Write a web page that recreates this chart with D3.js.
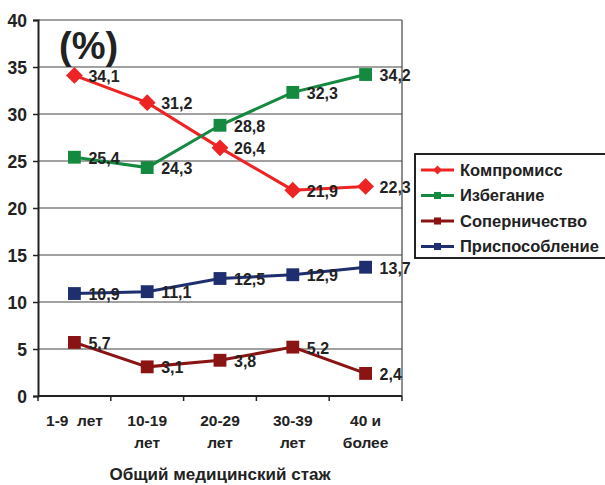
<!DOCTYPE html>
<html><head><meta charset="utf-8">
<script src="https://cdn.jsdelivr.net/npm/d3@7"></script>
<style>body{margin:0;background:#fff}svg{display:block;font-family:Arial,"Liberation Sans",sans-serif}</style>
</head><body>
<script>
const categories = [["1-9  лет"], ["10-19", "лет"], ["20-29", "лет"], ["30-39", "лет"], ["40 и", "более"]];
const seriesNames = ["Компромисс", "Избегание", "Соперничество", "Приспособление"];
const seriesColors = ["#ee2424", "#14893f", "#8a1414", "#1e2e6e"];
const seriesMarkers = ["diamond", "square", "square", "square"];
const kompromiss = [34.1, 31.2, 26.4, 21.9, 22.3];
const izbeganie = [25.4, 24.3, 28.8, 32.3, 34.2];
const sopernichestvo = [5.7, 3.1, 3.8, 5.2, 2.4];
const prisposoblenie = [10.9, 11.1, 12.5, 12.9, 13.7];
const yTicks = [0, 5, 10, 15, 20, 25, 30, 35, 40];
const seriesValues = [kompromiss, izbeganie, sopernichestvo, prisposoblenie];

const W = 605, H = 485;
const svg = d3.select("body").append("svg").attr("width", W).attr("height", H);
const m = {left: 38, right: 402, top: 20, bottom: 396};

const x = d3.scaleBand().domain(d3.range(categories.length)).range([m.left, m.right]);
const y = d3.scaleLinear().domain([0, 40]).range([m.bottom, m.top]);

// horizontal gridlines
svg.append("g").selectAll("line").data(yTicks.filter(d => d > 0)).join("line")
  .attr("x1", m.left).attr("x2", m.right)
  .attr("y1", d => y(d)).attr("y2", d => y(d))
  .attr("stroke", "#444").attr("stroke-width", 1.2);
// right border
svg.append("line").attr("x1", m.right).attr("x2", m.right).attr("y1", m.top).attr("y2", m.bottom)
  .attr("stroke", "#444").attr("stroke-width", 1.2);

// y axis
const yAxis = svg.append("g").attr("transform", `translate(${m.left},0)`)
  .call(d3.axisLeft(y).tickValues(yTicks).tickSize(5).tickPadding(6).tickFormat(d3.format("d")));
yAxis.select(".domain").attr("stroke", "#222").attr("stroke-width", 2);
yAxis.selectAll(".tick line").attr("stroke", "#222").attr("stroke-width", 1.5);
yAxis.selectAll("text").attr("font-size", 17.5).attr("font-weight", "bold").attr("fill", "#222").attr("dy", "0.36em");

// x axis with ticks at band edges
const edges = d3.range(categories.length + 1).map(i => m.left + i * x.step());
svg.append("line").attr("x1", m.left).attr("x2", m.right).attr("y1", m.bottom).attr("y2", m.bottom)
  .attr("stroke", "#222").attr("stroke-width", 2);
svg.append("g").selectAll("line").data(edges).join("line")
  .attr("x1", d => d).attr("x2", d => d).attr("y1", m.bottom).attr("y2", m.bottom + 5)
  .attr("stroke", "#222").attr("stroke-width", 1.5);
const xl = svg.append("g").selectAll("text").data(categories).join("text")
  .attr("x", (d, i) => x(i) + x.bandwidth() / 2).attr("y", 426)
  .attr("text-anchor", "middle").attr("font-size", 15.5).attr("font-weight", "bold").attr("fill", "#222");
xl.selectAll("tspan").data(d => d).join("tspan")
  .attr("x", function () { return this.parentNode.getAttribute("x"); })
  .attr("dy", (d, i) => i === 0 ? 0 : 22).attr("xml:space", "preserve").text(d => d);

svg.append("text").attr("x", 220).attr("y", 480).attr("text-anchor", "middle")
  .attr("font-size", 17).attr("font-weight", "bold").attr("fill", "#222").text("Общий медицинский стаж");

svg.append("text").attr("x", 59).attr("y", 59).attr("font-size", 38).attr("font-weight", "bold")
  .attr("fill", "#222").text("(%)");

const cx = i => x(i) + x.bandwidth() / 2;
const line = d3.line().x((d, i) => cx(i)).y(d => y(d));
const sym = {diamond: d3.symbol().type(d3.symbolDiamond2).size(180), square: d3.symbol().type(d3.symbolSquare).size(165)};

seriesValues.forEach((vals, s) => {
  const g = svg.append("g");
  g.append("path").datum(vals).attr("d", line).attr("fill", "none")
    .attr("stroke", seriesColors[s]).attr("stroke-width", 3);
  g.selectAll("path.pt").data(vals).join("path").attr("class", "pt")
    .attr("transform", (d, i) => `translate(${cx(i)},${y(d)})`)
    .attr("d", sym[seriesMarkers[s]]).attr("fill", seriesColors[s]);
  g.selectAll("text").data(vals).join("text")
    .attr("x", (d, i) => cx(i) + 14).attr("y", d => y(d) + 6.5)
    .attr("font-size", 16).attr("font-weight", "bold").attr("fill", "#222")
    .text(d => d3.format(".1f")(d).replace(".", ","));
});

// legend
const lg = svg.append("g");
lg.append("rect").attr("x", 415).attr("y", 154).attr("width", 200).attr("height", 104)
  .attr("fill", "#fff").attr("stroke", "#222").attr("stroke-width", 2);
seriesNames.forEach((n, s) => {
  const yy = 170 + s * 25.5;
  lg.append("line").attr("x1", 421).attr("x2", 454).attr("y1", yy).attr("y2", yy)
    .attr("stroke", seriesColors[s]).attr("stroke-width", 3);
  lg.append("path").attr("transform", `translate(437.5,${yy})`)
    .attr("d", d3.symbol().type(seriesMarkers[s] === "diamond" ? d3.symbolDiamond2 : d3.symbolSquare).size(50))
    .attr("fill", seriesColors[s]);
  lg.append("text").attr("x", 460).attr("y", yy + 5.5).attr("font-size", 16.5).attr("font-weight", "bold")
    .attr("fill", "#222").text(n);
});
</script>
</body></html>
